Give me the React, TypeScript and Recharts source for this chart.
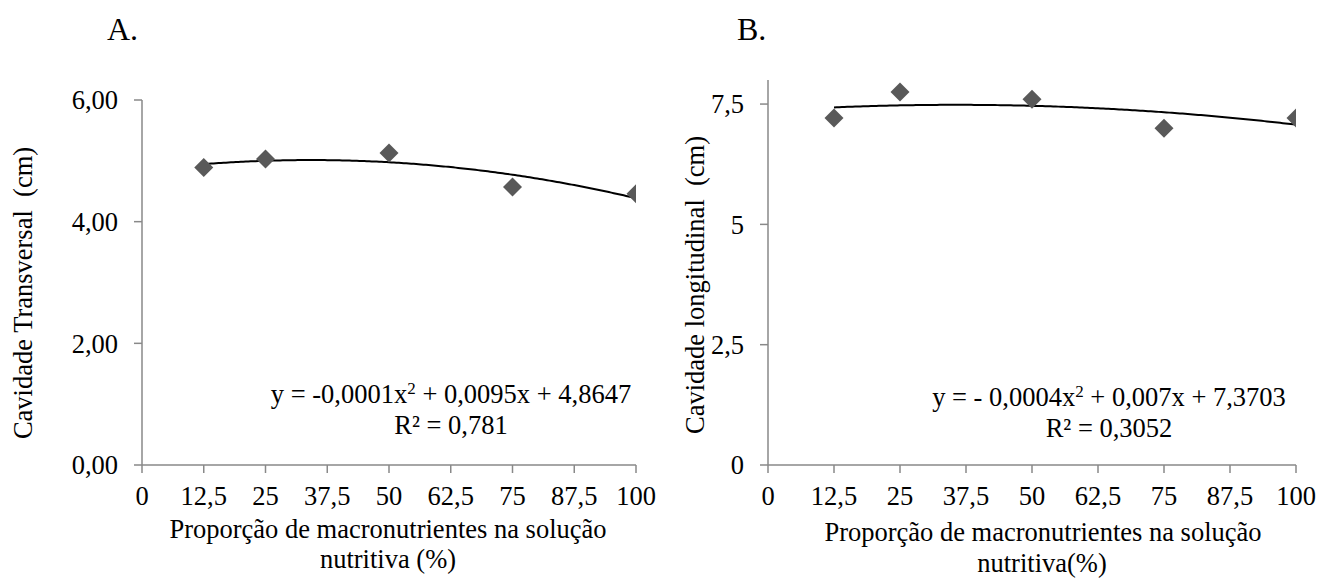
import React from 'react';
import { ComposedChart, Scatter, Line, XAxis, YAxis } from 'recharts';

// Doses of macronutrients in the nutrient solution (%)
const doses = [12.5, 25, 50, 75, 100];
// A. transverse cavity (cm)
const transversal = [4.89, 5.03, 5.13, 4.57, 4.46];
// B. longitudinal cavity (cm)
const longitudinal = [7.21, 7.75, 7.6, 7.0, 7.21];

const xTicks = [0, 12.5, 25, 37.5, 50, 62.5, 75, 87.5, 100];
const yTicksA = [0, 2, 4, 6];
const yTicksB = [0, 2.5, 5, 7.5];

const eqA = { lead: 'y = -0,0001x', rest: ' + 0,0095x + 4,8647', r2: 'R² = 0,781' };
const eqB = { lead: 'y = - 0,0004x', rest: ' + 0,007x + 7,3703', r2: 'R² = 0,3052' };

const FONT = "'Liberation Serif', 'Times New Roman', serif";
const FS = 26.5;
const AXIS = '#898989';
const MARK = '#595959';

// Least-squares quadratic (Excel polynomial trendline of order 2)
function quadFit(xs: number[], ys: number[]) {
  const S = (f: (x: number, y: number) => number) => xs.reduce((s, x, i) => s + f(x, ys[i]), 0);
  const n = xs.length;
  const sx = S((x) => x), sx2 = S((x) => x * x), sx3 = S((x) => x ** 3), sx4 = S((x) => x ** 4);
  const sy = S((_, y) => y), sxy = S((x, y) => x * y), sx2y = S((x, y) => x * x * y);
  const M = [
    [n, sx, sx2, sy],
    [sx, sx2, sx3, sxy],
    [sx2, sx3, sx4, sx2y],
  ];
  for (let i = 0; i < 3; i++) {
    for (let k = i + 1; k < 3; k++) {
      const f = M[k][i] / M[i][i];
      for (let j = i; j < 4; j++) M[k][j] -= f * M[i][j];
    }
  }
  const c = [0, 0, 0];
  for (let i = 2; i >= 0; i--) {
    let s = M[i][3];
    for (let j = i + 1; j < 3; j++) s -= M[i][j] * c[j];
    c[i] = s / M[i][i];
  }
  return (x: number) => c[0] + c[1] * x + c[2] * x * x;
}

function trend(xs: number[], ys: number[]) {
  const f = quadFit(xs, ys);
  const pts: { x: number; y: number }[] = [];
  const lo = xs[0], hi = xs[xs.length - 1];
  const steps = 175;
  for (let i = 0; i <= steps; i++) {
    const x = lo + ((hi - lo) * i) / steps;
    pts.push({ x, y: f(x) });
  }
  return pts;
}

const pointsA = doses.map((x, i) => ({ x, y: transversal[i] }));
const pointsB = doses.map((x, i) => ({ x, y: longitudinal[i] }));
const trendA = trend(doses, transversal);
const trendB = trend(doses, longitudinal);

const comma = (v: number) => String(v).replace('.', ',');
const fixed2 = (v: number) => v.toFixed(2).replace('.', ',');

const Diamond = (props: any) => {
  const { cx, cy } = props;
  const r = 9.5;
  return (
    <polygon
      points={`${cx},${cy - r} ${cx + r},${cy} ${cx},${cy + r} ${cx - r},${cy}`}
      fill={MARK}
    />
  );
};

const tickStyle = { fill: '#000', fontSize: FS, fontFamily: FONT };

function Panel(props: {
  points: { x: number; y: number }[];
  curve: { x: number; y: number }[];
  yMax: number;
  yTicks: number[];
  yFmt: (v: number) => string;
  width: number;
  margin: { top: number; right: number; bottom: number; left: number };
}) {
  const { points, curve, yMax, yTicks, yFmt, width, margin } = props;
  return (
    <ComposedChart width={width} height={581} margin={margin}>
      <XAxis
        type="number"
        dataKey="x"
        domain={[0, 100]}
        ticks={xTicks}
        interval={0}
        tickFormatter={comma}
        height={40}
        tick={tickStyle}
        tickSize={8}
        tickMargin={13}
        axisLine={{ stroke: AXIS, strokeWidth: 1.5 }}
        tickLine={{ stroke: AXIS, strokeWidth: 1.5 }}
        allowDataOverflow
      />
      <YAxis
        type="number"
        dataKey="y"
        domain={[0, yMax]}
        ticks={yTicks}
        interval={0}
        tickFormatter={yFmt}
        width={80}
        tick={tickStyle}
        tickSize={8}
        tickMargin={16}
        axisLine={{ stroke: AXIS, strokeWidth: 1.5 }}
        tickLine={{ stroke: AXIS, strokeWidth: 1.5 }}
        allowDataOverflow
      />
      <Scatter data={points} dataKey="y" shape={Diamond} isAnimationActive={false} />
      <Line
        data={curve}
        dataKey="y"
        type="linear"
        stroke="#000"
        strokeWidth={2}
        dot={false}
        activeDot={false}
        isAnimationActive={false}
      />
    </ComposedChart>
  );
}

function Equation(props: { cx: number; y: number; eq: { lead: string; rest: string; r2: string } }) {
  const { cx, y, eq } = props;
  return (
    <g fontFamily={FONT} fontSize={FS} fill="#000" textAnchor="middle">
      <text x={cx} y={y}>
        <tspan>{eq.lead}</tspan>
        <tspan dy={-9} fontSize={17}>2</tspan>
        <tspan dy={9}>{eq.rest}</tspan>
      </text>
      <text x={cx} y={y + 31}>{eq.r2}</text>
    </g>
  );
}

export default function App() {
  return (
    <div style={{ position: 'absolute', left: 0, top: 0, width: 1318, height: 581, background: '#fff' }}>
      <div style={{ position: 'absolute', left: 0, top: 0 }}>
        <Panel
          points={pointsA}
          curve={trendA}
          yMax={6}
          yTicks={yTicksA}
          yFmt={fixed2}
          width={660}
          margin={{ top: 100, right: 24, bottom: 76, left: 62 }}
        />
      </div>
      <div style={{ position: 'absolute', left: 660, top: 0 }}>
        <Panel
          points={pointsB}
          curve={trendB}
          yMax={8}
          yTicks={yTicksB}
          yFmt={comma}
          width={658}
          margin={{ top: 80, right: 22, bottom: 76, left: 28 }}
        />
      </div>
      <svg
        width={1318}
        height={581}
        style={{ position: 'absolute', left: 0, top: 0, pointerEvents: 'none' }}
      >
        <g fontFamily={FONT} fill="#000">
          <text x={107} y={40} fontSize={32}>A.</text>
          <text x={737} y={40} fontSize={32}>B.</text>

          <text x={32} y={293} fontSize={FS} textAnchor="middle" transform="rotate(-90 32 293)" xmlSpace="preserve">
            Cavidade Transversal  (cm)
          </text>
          <text x={704} y={285} fontSize={FS} textAnchor="middle" transform="rotate(-90 704 285)" xmlSpace="preserve">
            Cavidade longitudinal  (cm)
          </text>

          <text x={388} y={538} fontSize={FS} textAnchor="middle">Proporção de macronutrientes na solução</text>
          <text x={388} y={568} fontSize={FS} textAnchor="middle">nutritiva (%)</text>
          <text x={1043} y={541} fontSize={FS} textAnchor="middle">Proporção de macronutrientes na solução</text>
          <text x={1042} y={572} fontSize={FS} textAnchor="middle">nutritiva(%)</text>
        </g>
        <Equation cx={451} y={403} eq={eqA} />
        <Equation cx={1109} y={406} eq={eqB} />
      </svg>
    </div>
  );
}
